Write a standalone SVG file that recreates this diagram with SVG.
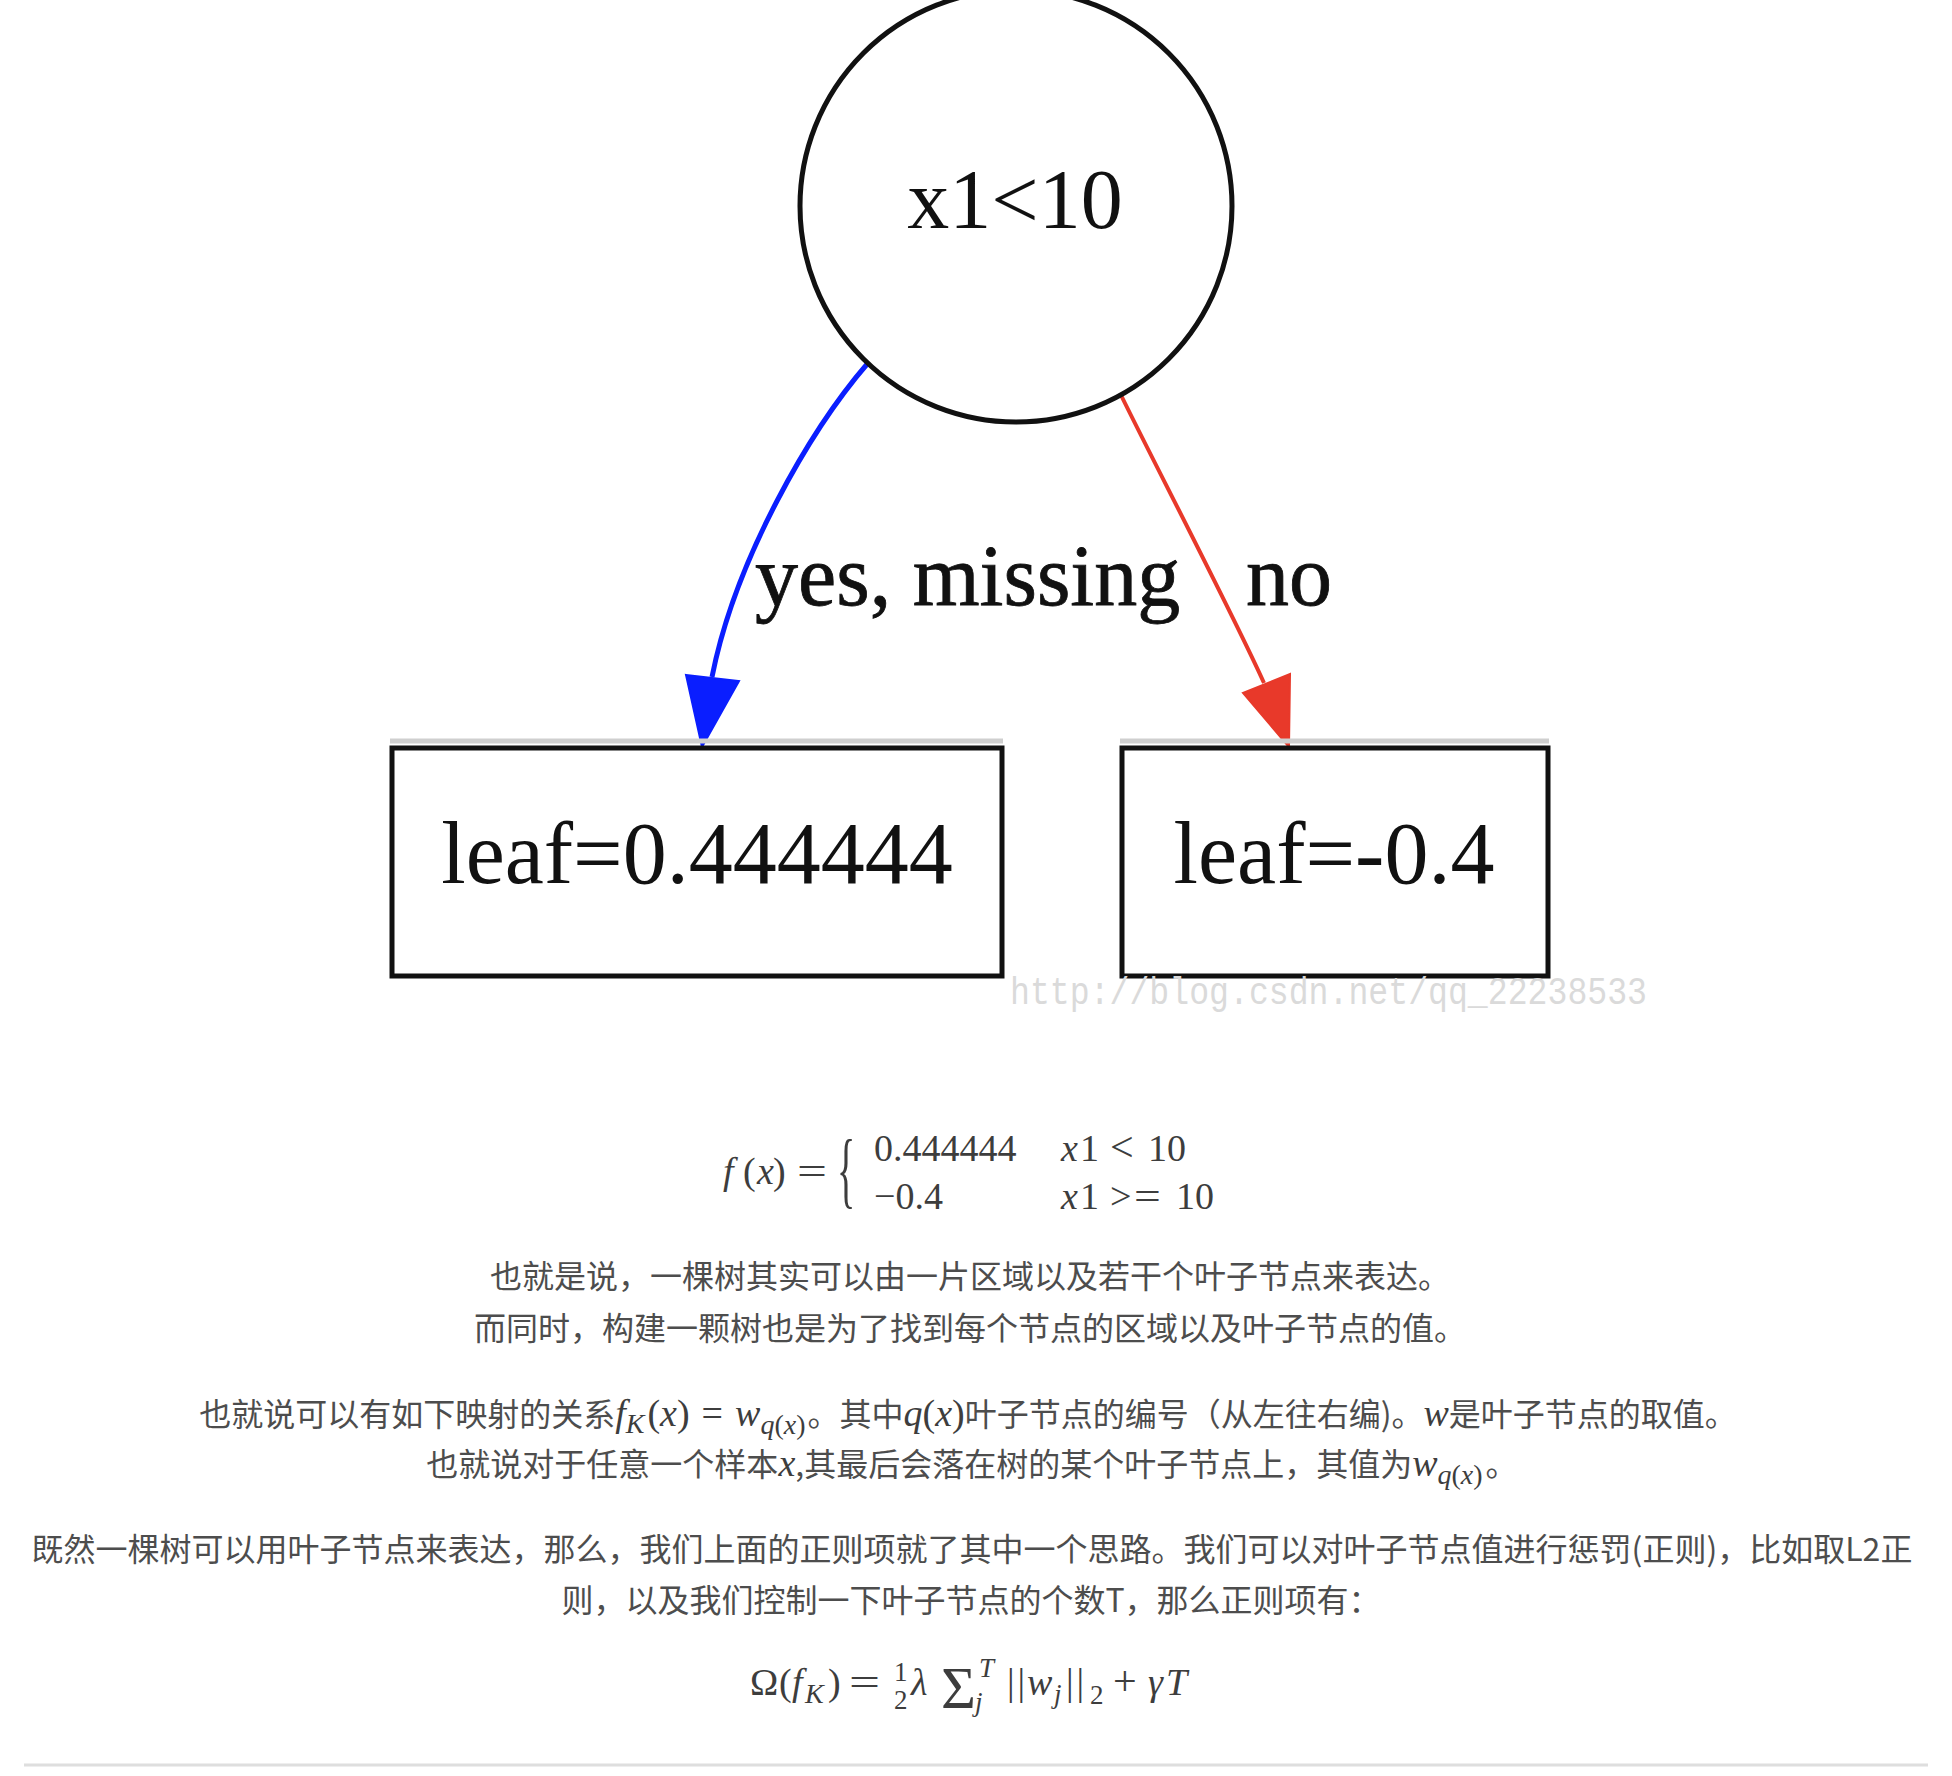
<svg xmlns="http://www.w3.org/2000/svg" width="1952" height="1776" viewBox="0 0 1952 1776">
<style>
.g{font-family:"Liberation Serif","Times New Roman",serif;fill:#111}
.node{fill:#fff;stroke:#111;stroke-width:5}
.shade{stroke:#cfcfcf;stroke-width:5}
.cn{font-family:"Noto Sans CJK SC","Noto Sans",sans-serif;font-size:32px;fill:#4d4d4d}
.m{font-family:"Liberation Serif","Times New Roman",serif;fill:#3d3d3d}
.i{font-style:italic}
.s{font-size:28px}
.b{font-size:38px}
</style>
<rect width="1952" height="1776" fill="#fff"/>

<g id="connectors">
  <g id="edge-yes">
    <path d="M868,363 C810,430 735,560 712,677" fill="none" stroke="#0a1eff" stroke-width="5"/>
    <polygon points="686,675 739,681 702,747" fill="#0a1eff" stroke="#0a1eff" stroke-width="2"/>
    <text class="g" x="755" y="605" font-size="86" stroke="#111" stroke-width="0.8">yes, missing</text>
  </g>
  <g id="edge-no">
    <path d="M1120,393 C1145,445 1232,612 1264,683" fill="none" stroke="#e8392a" stroke-width="4"/>
    <polygon points="1243,693 1290,674 1289,747" fill="#e8392a" stroke="#e8392a" stroke-width="2"/>
    <text class="g" x="1246" y="605" font-size="86" stroke="#111" stroke-width="0.8">no</text>
  </g>
</g>

<g id="node-root">
  <circle class="node" cx="1016" cy="206" r="216"/>
  <text class="g" x="1015" y="228" font-size="84" text-anchor="middle">x1&lt;10</text>
</g>

<g id="node-leaf-yes">
  <line class="shade" x1="390" y1="741" x2="1003" y2="741"/>
  <line class="shade" x1="390" y1="971" x2="1003" y2="971"/>
  <rect class="node" x="392" y="748" width="610" height="228" fill="none"/>
  <text class="g" x="697" y="883" font-size="88" text-anchor="middle">leaf=0.444444</text>
</g>

<g id="node-leaf-no">
  <line class="shade" x1="1120" y1="741" x2="1549" y2="741"/>
  <line class="shade" x1="1120" y1="971" x2="1549" y2="971"/>
  <rect class="node" x="1122" y="748" width="426" height="228" fill="none"/>
  <text class="g" x="1334" y="883" font-size="88" text-anchor="middle">leaf=-0.4</text>
</g>

<text x="1010" y="1004" font-family="Liberation Mono,monospace" font-size="38" fill="#dadada" textLength="637" lengthAdjust="spacingAndGlyphs">http://blog.csdn.net/qq_22238533</text>

<g id="formula-f" class="m" font-size="38">
  <text x="723" y="1184" class="i">f</text>
  <text x="743" y="1184">(</text>
  <text x="757" y="1184" class="i">x</text>
  <text x="773" y="1184">)</text>
  <text transform="translate(797,1184) scale(1.4,1)">=</text>
  <text transform="translate(837,1198) scale(1,2.2)">{</text>
  <text x="874" y="1161">0.444444</text>
  <text x="1061" y="1161" class="i">x</text>
  <text x="1080" y="1161">1</text>
  <text x="1110" y="1161" font-size="42">&lt;</text>
  <text x="1148" y="1161">10</text>
  <text x="874" y="1209">−0.4</text>
  <text x="1061" y="1209" class="i">x</text>
  <text x="1080" y="1209">1</text>
  <text x="1110" y="1209">&gt;</text>
  <text transform="translate(1134,1209) scale(1.25,1)">=</text>
  <text x="1176" y="1209">10</text>
</g>

<g id="para1" class="cn" text-anchor="middle">
  <text x="970" y="1288">也就是说，一棵树其实可以由一片区域以及若干个叶子节点来表达。</text>
  <text x="970" y="1340">而同时，构建一颗树也是为了找到每个节点的区域以及叶子节点的值。</text>
</g>

<g id="para2" class="cn" text-anchor="middle">
  <text x="968" y="1426">也就说可以有如下映射的关系<tspan class="m i b">f</tspan><tspan class="m i s" dy="7">K</tspan><tspan class="m b" dy="-7" dx="3">(</tspan><tspan class="m i b">x</tspan><tspan class="m b">)</tspan><tspan class="m b" dx="12">=</tspan><tspan class="m i b" dx="12">w</tspan><tspan class="m i s" dy="8">q</tspan><tspan class="m s">(</tspan><tspan class="m i s">x</tspan><tspan class="m s">)</tspan><tspan dy="-8" dx="2">。其中</tspan><tspan class="m i b">q</tspan><tspan class="m b">(</tspan><tspan class="m i b">x</tspan><tspan class="m b">)</tspan>叶子节点的编号（从左往右编)。<tspan class="m i b">w</tspan>是叶子节点的取值。</text>
  <text x="972" y="1476">也就说对于任意一个样本<tspan class="m i b">x</tspan>,其最后会落在树的某个叶子节点上，其值为<tspan class="m i b">w</tspan><tspan class="m i s" dy="8">q</tspan><tspan class="m s">(</tspan><tspan class="m i s">x</tspan><tspan class="m s">)</tspan><tspan dy="-8" dx="3">。</tspan></text>
</g>

<g id="para3" class="cn" text-anchor="middle">
  <text x="972" y="1561">既然一棵树可以用叶子节点来表达，那么，我们上面的正则项就了其中一个思路。我们可以对叶子节点值进行惩罚(正则)，比如取L2正</text>
  <text x="971" y="1612">则，以及我们控制一下叶子节点的个数T，那么正则项有：</text>
</g>

<g id="formula-omega" class="m" font-size="38">
  <text x="750" y="1695">Ω</text>
  <text x="779" y="1695">(</text>
  <text x="792" y="1695" class="i">f</text>
  <text x="805" y="1703" class="i s">K</text>
  <text x="828" y="1695">)</text>
  <text transform="translate(849,1695) scale(1.45,1)">=</text>
  <text x="894" y="1681" font-size="27">1</text>
  <text x="894" y="1709" font-size="27">2</text>
  <text x="911" y="1695" class="i">λ</text>
  <text x="941" y="1708" font-size="60">Σ</text>
  <text x="979" y="1677" class="i" font-size="27">T</text>
  <text x="975" y="1711" class="i" font-size="27">j</text>
  <text x="1007" y="1695" letter-spacing="3">||</text>
  <text x="1027" y="1695" class="i">w</text>
  <text x="1054" y="1703" class="i" font-size="27">j</text>
  <text x="1066" y="1695" letter-spacing="3">||</text>
  <text x="1090" y="1704" font-size="27">2</text>
  <text x="1113" y="1695" font-size="42">+</text>
  <text x="1148" y="1695" class="i">γ</text>
  <text x="1166" y="1695" class="i">T</text>
</g>

<line x1="24" y1="1765" x2="1928" y2="1765" stroke="#dedede" stroke-width="3"/>
</svg>
